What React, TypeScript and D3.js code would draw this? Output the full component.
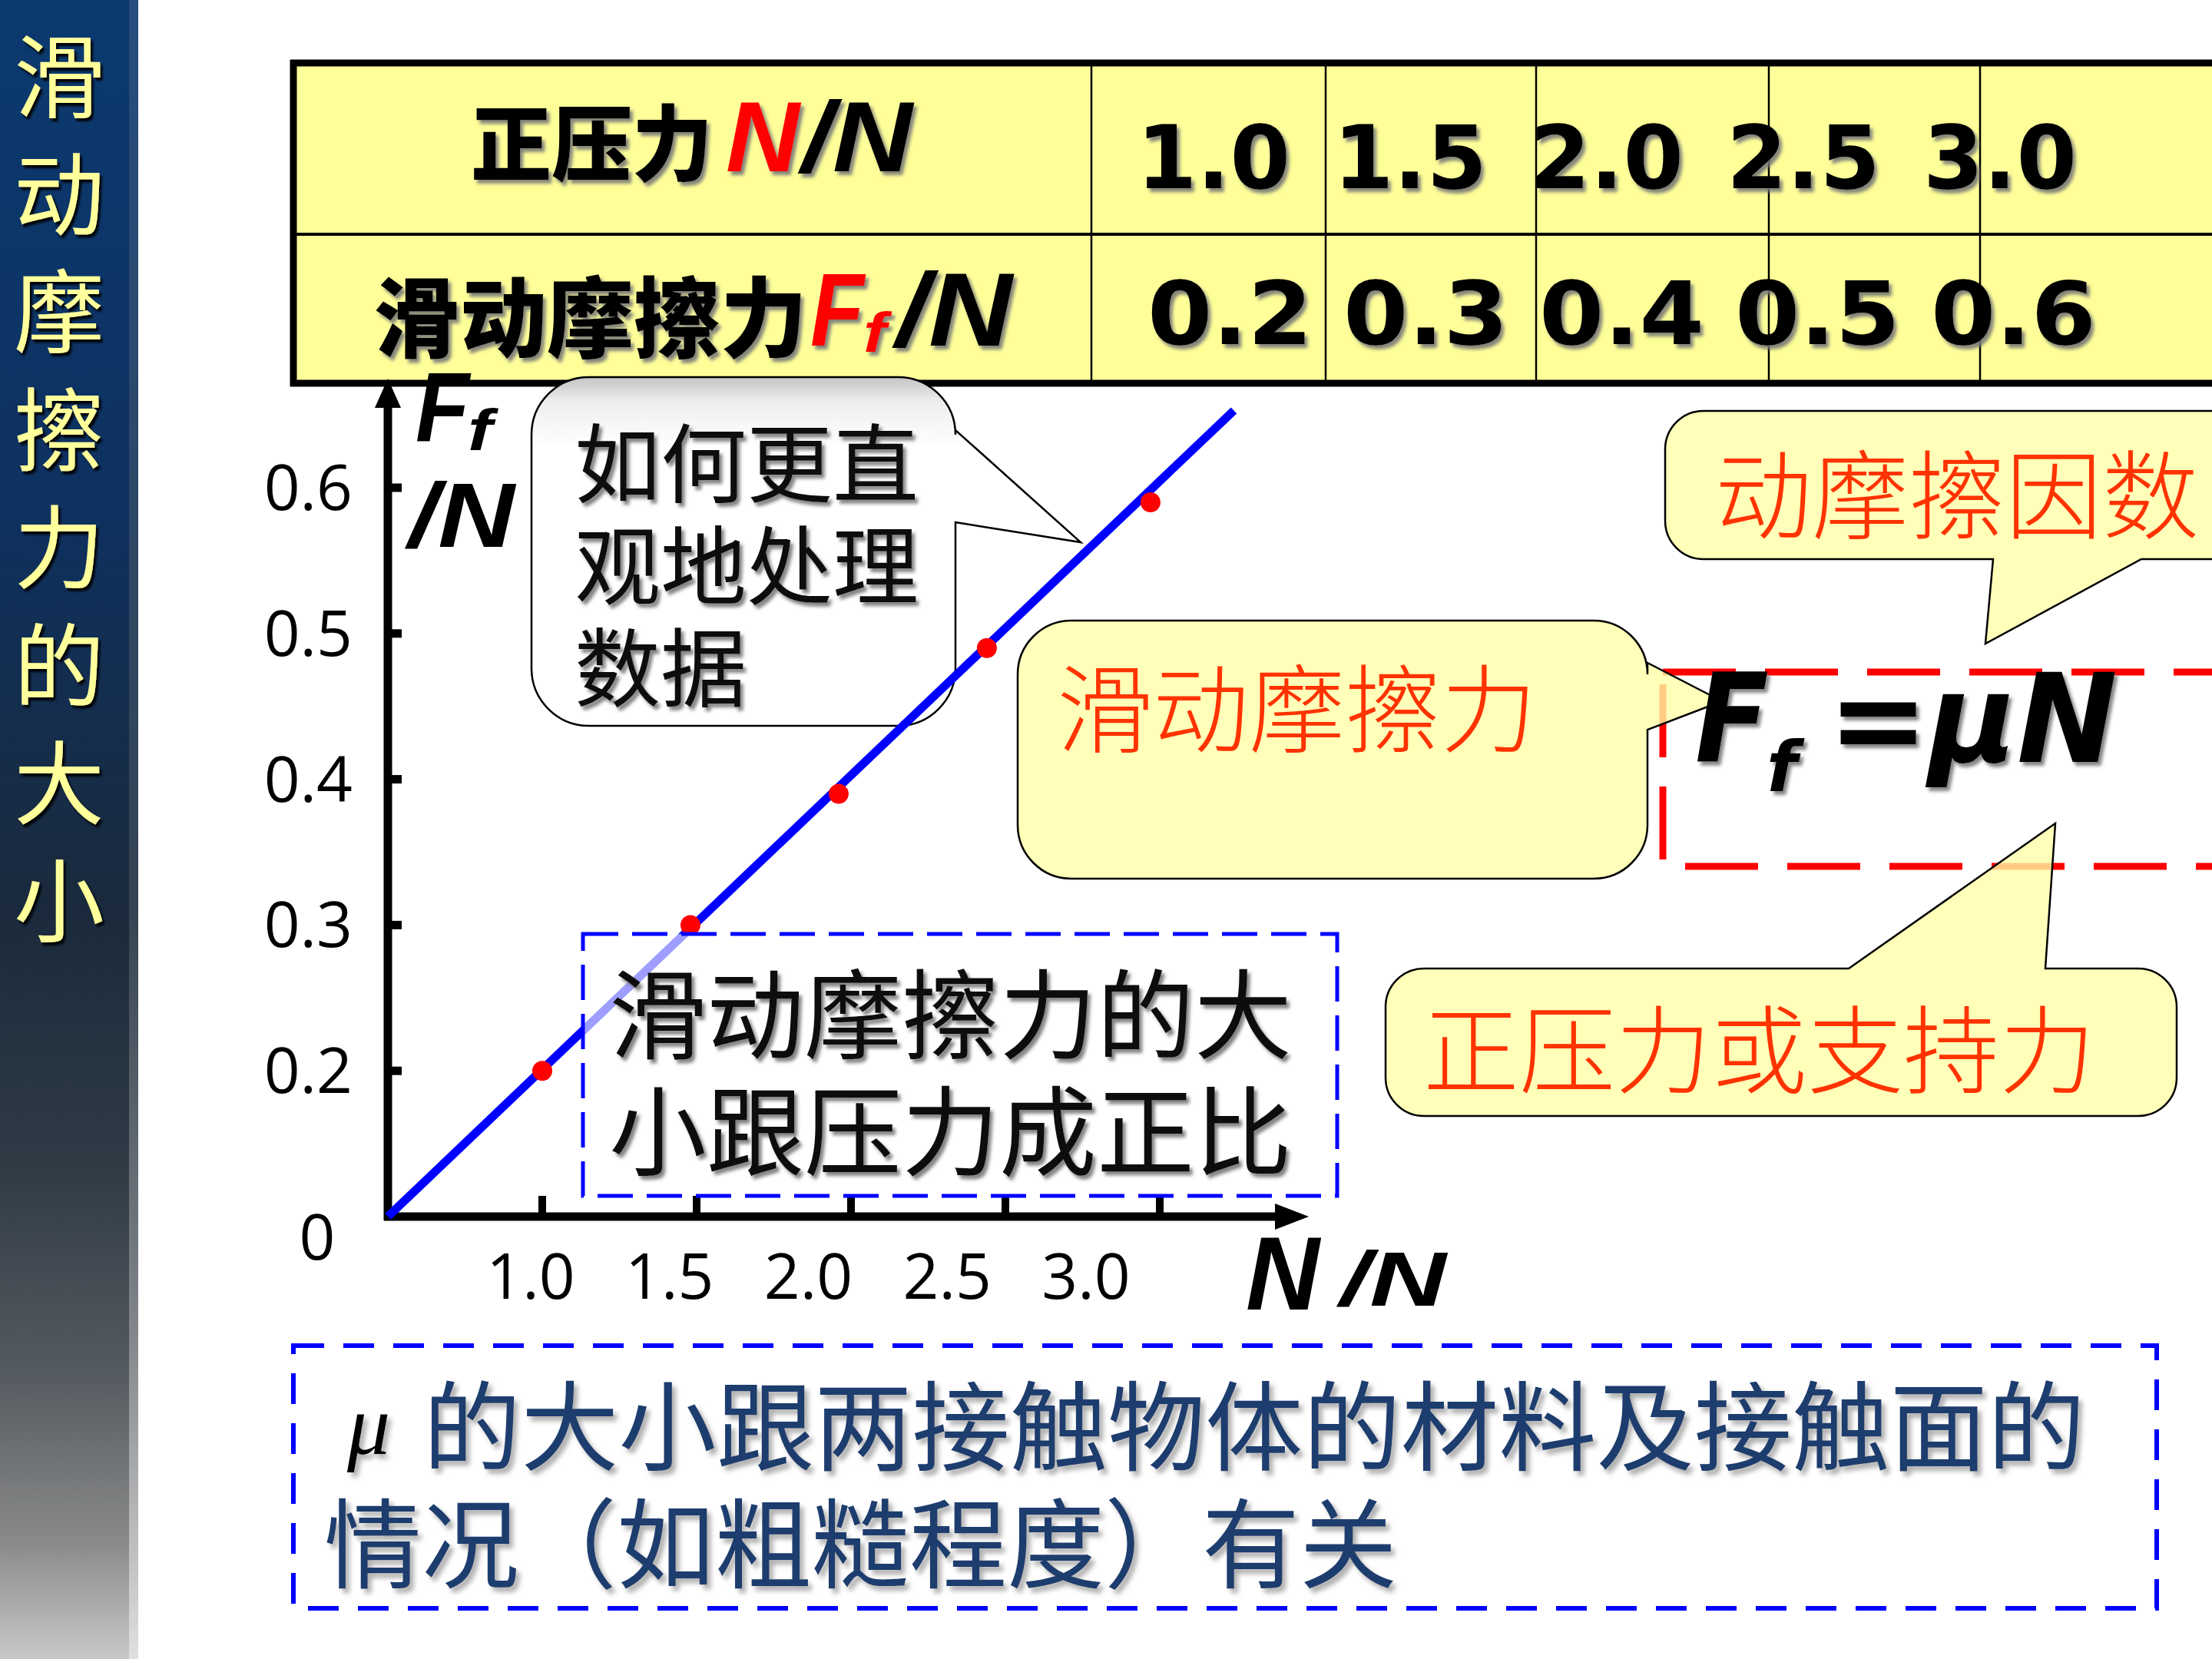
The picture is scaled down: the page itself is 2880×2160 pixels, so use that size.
import React from 'react';
import * as d3 from 'd3';

const W = 2880;
const H = 2160;

// ---- data ----
const sidebarTitle = ['滑', '动', '摩', '擦', '力', '的', '大', '小'];
const tableNormal = [1.0, 1.5, 2.0, 2.5, 3.0];
const tableFriction = [0.2, 0.3, 0.4, 0.5, 0.6];
const pointN = [1.0, 1.48, 1.96, 2.44, 2.97];
const pointF = [0.2, 0.3, 0.39, 0.49, 0.59];
const fitN = [0.5, 3.24];
const fitF = [0.1, 0.653];
const xTicks = [1.0, 1.5, 2.0, 2.5, 3.0];
const yTicks = [0.2, 0.3, 0.4, 0.5, 0.6];
const questionLines = ['如何更直', '观地处理', '数据'];
const conclusionLines = ['滑动摩擦力的大', '小跟压力成正比'];
const noteLine1 = '的大小跟两接触物体的材料及接触面的';
const noteLine2 = '情况（如粗糙程度）有关';
const calloutFriction = '滑动摩擦力';
const calloutMu = '动摩擦因数';
const calloutNormal = '正压力或支持力';

const CJK = '"Noto Sans CJK SC", "Noto Sans CJK JP", sans-serif';
const LATIN = '"Liberation Sans", Arial, sans-serif';
const ROUND = '"DejaVu Sans", sans-serif';
const TICK = '"Open Sans", "Noto Sans", sans-serif';

type Wedge = { side: 'top' | 'right' | 'bottom'; a: number; b: number; tx: number; ty: number };

function calloutPath(x: number, y: number, w: number, h: number, r: number, wd: Wedge) {
  const p = d3.path();
  p.moveTo(x + r, y);
  if (wd.side === 'top') {
    p.lineTo(wd.a, y);
    p.lineTo(wd.tx, wd.ty);
    p.lineTo(wd.b, y);
  }
  p.lineTo(x + w - r, y);
  p.arcTo(x + w, y, x + w, y + r, r);
  if (wd.side === 'right') {
    p.lineTo(x + w, wd.a);
    p.lineTo(wd.tx, wd.ty);
    p.lineTo(x + w, wd.b);
  }
  p.lineTo(x + w, y + h - r);
  p.arcTo(x + w, y + h, x + w - r, y + h, r);
  if (wd.side === 'bottom') {
    p.lineTo(wd.b, y + h);
    p.lineTo(wd.tx, wd.ty);
    p.lineTo(wd.a, y + h);
  }
  p.lineTo(x + r, y + h);
  p.arcTo(x, y + h, x, y + h - r, r);
  p.lineTo(x, y + r);
  p.arcTo(x, y, x + r, y, r);
  p.closePath();
  return p.toString();
}

export default function App() {
  const x = d3.scaleLinear().domain([0.5, 3.0]).range([505, 1510]);
  const y = d3.scaleLinear().domain([0.1, 0.6]).range([1584, 635]);
  const xLab = d3.scaleLinear().domain([1.0, 3.0]).range([691, 1414]);
  const row1 = d3.scalePoint<number>().domain(d3.range(tableNormal.length)).range([1480, 2504]);
  const row2 = d3.scalePoint<number>().domain(d3.range(tableFriction.length)).range([1494, 2514]);

  const fitLine = d3
    .line<number>()
    .x((d) => x(fitN[d]))
    .y((d) => y(fitF[d]))([0, 1]);

  const yellow = '#ffffa8';
  const red = '#ff3300';

  return (
    <svg
      width={W}
      height={H}
      viewBox={`0 0 ${W} ${H}`}
      style={{ position: 'absolute', left: 0, top: 0, background: '#fff' }}
    >
      <defs>
        <linearGradient id="side" x1="0" y1="0" x2="0" y2="1">
          <stop offset="0" stopColor="#0b3a70" />
          <stop offset="0.3" stopColor="#0e3160" />
          <stop offset="0.55" stopColor="#1a2a3c" />
          <stop offset="0.7" stopColor="#2f3a45" />
          <stop offset="0.83" stopColor="#555b61" />
          <stop offset="0.93" stopColor="#8a8a8a" />
          <stop offset="1" stopColor="#c8c8c8" />
        </linearGradient>
        <linearGradient id="sideStrip" x1="0" y1="0" x2="0" y2="1">
          <stop offset="0" stopColor="#2a5080" />
          <stop offset="0.55" stopColor="#3a4856" />
          <stop offset="0.8" stopColor="#8a8e92" />
          <stop offset="1" stopColor="#e4e4e4" />
        </linearGradient>
        <linearGradient id="qfill" x1="0" y1="0" x2="0" y2="1">
          <stop offset="0" stopColor="#c4c4c4" />
          <stop offset="0.07" stopColor="#eeeeee" />
          <stop offset="0.2" stopColor="#ffffff" />
          <stop offset="1" stopColor="#ffffff" />
        </linearGradient>
        <filter id="sh" x="-10%" y="-20%" width="130%" height="150%">
          <feDropShadow dx="4" dy="5" stdDeviation="2" floodColor="#777" floodOpacity="0.9" />
        </filter>
        <filter id="shLight" x="-10%" y="-20%" width="130%" height="150%">
          <feDropShadow dx="5" dy="6" stdDeviation="3" floodColor="#999" floodOpacity="0.8" />
        </filter>
        <filter id="shDark" x="-20%" y="-20%" width="150%" height="150%">
          <feDropShadow dx="3" dy="4" stdDeviation="1.5" floodColor="#000" floodOpacity="0.95" />
        </filter>
      </defs>

      <rect x={0} y={0} width={W} height={H} fill="#ffffff" />

      {/* sidebar */}
      <rect x={0} y={0} width={180} height={H} fill="url(#side)" />
      <rect x={168} y={0} width={12} height={H} fill="url(#sideStrip)" opacity={0.85} />
      <g filter="url(#shDark)">
        {sidebarTitle.map((c, i) => (
          <text
            key={i}
            x={77}
            y={92 + i * 153.4}
            fontFamily={CJK}
            fontSize={118}
            fill="#ffff9c"
            textAnchor="middle"
            dominantBaseline="central"
          >
            {c}
          </text>
        ))}
      </g>

      {/* data table */}
      <rect x={382} y={82} width={2600} height={417} fill="#ffff99" />
      <line x1={382} y1={305} x2={2900} y2={305} stroke="#000" strokeWidth={4} />
      {[1421, 1726, 2000, 2303, 2578].map((cx, i) => (
        <line key={i} x1={cx} y1={82} x2={cx} y2={499} stroke="#000" strokeWidth={2.5} />
      ))}
      <line x1={378} y1={82} x2={2900} y2={82} stroke="#000" strokeWidth={9} />
      <line x1={378} y1={499} x2={2900} y2={499} stroke="#000" strokeWidth={9} />
      <line x1={382} y1={78} x2={382} y2={503} stroke="#000" strokeWidth={9} />

      <g filter="url(#sh)">
        <text x={613} y={180} fontFamily={CJK} fontWeight={900} fontSize={108} textLength={315} lengthAdjust="spacingAndGlyphs" dominantBaseline="central" fill="#000">
          正压力
        </text>
        <text x={945} y={223} fontFamily={LATIN} fontStyle="italic" fontWeight={700} fontSize={130} textLength={96} lengthAdjust="spacingAndGlyphs" fill="#ff0000">
          N
        </text>
        <text x={1044} y={223} fontFamily={LATIN} fontStyle="italic" fontWeight={700} fontSize={130} textLength={144} lengthAdjust="spacingAndGlyphs" fill="#000">
          /N
        </text>

        <text x={486} y={406} fontFamily={CJK} fontWeight={900} fontSize={114} textLength={565} lengthAdjust="spacingAndGlyphs" dominantBaseline="central" fill="#000">
          滑动摩擦力
        </text>
        <text x={1055} y={450} fontFamily={LATIN} fontStyle="italic" fontWeight={700} fontSize={135} textLength={70} lengthAdjust="spacingAndGlyphs" fill="#ff0000">
          F
        </text>
        <text x={1124} y={458} fontFamily={LATIN} fontStyle="italic" fontWeight={700} fontSize={72} textLength={30} lengthAdjust="spacingAndGlyphs" fill="#ff0000">
          f
        </text>
        <text x={1167} y={450} fontFamily={LATIN} fontStyle="italic" fontWeight={700} fontSize={135} textLength={151} lengthAdjust="spacingAndGlyphs" fill="#000">
          /N
        </text>

        {tableNormal.map((v, i) => (
          <text key={i} x={row1(i)} y={245} fontFamily={ROUND} fontWeight={700} fontSize={114} textLength={200} lengthAdjust="spacingAndGlyphs" fill="#000">
            {v.toFixed(1)}
          </text>
        ))}
        {tableFriction.map((v, i) => (
          <text key={i} x={row2(i)} y={448} fontFamily={ROUND} fontWeight={700} fontSize={114} textLength={215} lengthAdjust="spacingAndGlyphs" fill="#000">
            {v.toFixed(1)}
          </text>
        ))}
      </g>

      {/* question callout */}
      <path
        d={calloutPath(692, 491, 552, 454, 75, { side: 'right', a: 560, b: 680, tx: 1407, ty: 706 })}
        fill="url(#qfill)"
        stroke="#000"
        strokeWidth={2.5}
      />
      <g filter="url(#sh)">
        {questionLines.map((t, i) => (
          <text key={i} x={748} y={597 + i * 133} fontFamily={CJK} fontSize={112} fill="#111" dominantBaseline="central">
            {t}
          </text>
        ))}
      </g>

      {/* axes */}
      <line x1={505} y1={1589} x2={505} y2={525} stroke="#000" strokeWidth={11} />
      <polygon points="505,493 488,531 522,531" fill="#000" />
      <line x1={500} y1={1584} x2={1665} y2={1584} stroke="#000" strokeWidth={11} />
      <polygon points="1704,1584 1660,1567 1660,1601" fill="#000" />
      {yTicks.map((v) => (
        <g key={v}>
          <line x1={505} y1={y(v)} x2={523} y2={y(v)} stroke="#000" strokeWidth={11} />
          <text x={459} y={y(v) + 29} fontFamily={TICK} fontSize={82} textAnchor="end" fill="#000">
            {v.toFixed(1)}
          </text>
        </g>
      ))}
      <text x={413} y={1640} fontFamily={TICK} fontSize={82} textAnchor="middle" fill="#000">
        0
      </text>
      {xTicks.map((v) => (
        <g key={v}>
          <line x1={x(v)} y1={1584} x2={x(v)} y2={1557} stroke="#000" strokeWidth={10} />
          <text x={xLab(v)} y={1691} fontFamily={TICK} fontSize={82} textAnchor="middle" fill="#000">
            {v.toFixed(1)}
          </text>
        </g>
      ))}

      {/* axis titles */}
      <text x={541} y={574} fontFamily={LATIN} fontStyle="italic" fontWeight={700} fontSize={128} textLength={70} lengthAdjust="spacingAndGlyphs" fill="#000">
        F
      </text>
      <text x={609} y={586} fontFamily={LATIN} fontStyle="italic" fontWeight={700} fontSize={76} textLength={32} lengthAdjust="spacingAndGlyphs" fill="#000">
        f
      </text>
      <text x={532} y={712} fontFamily={LATIN} fontStyle="italic" fontWeight={700} fontSize={118} textLength={138} lengthAdjust="spacingAndGlyphs" fill="#000">
        /N
      </text>
      <text x={1622} y={1705} fontFamily={LATIN} fontStyle="italic" fontWeight={700} fontSize={135} textLength={96} lengthAdjust="spacingAndGlyphs" fill="#000">
        N
      </text>
      <text x={1745} y={1700} fontFamily={LATIN} fontStyle="italic" fontWeight={700} fontSize={100} textLength={138} lengthAdjust="spacingAndGlyphs" fill="#000">
        /N
      </text>

      {/* fit line and data points */}
      <path d={fitLine ?? ''} stroke="#0000ff" strokeWidth={11} fill="none" />
      {pointN.map((n, i) => (
        <circle key={i} cx={x(n)} cy={y(pointF[i])} r={13} fill="#ff0000" />
      ))}
      <path d={fitLine ?? ''} stroke="#0000ff" strokeWidth={11} fill="none" clipPath="none" opacity={0} />

      {/* conclusion box */}
      <rect x={759} y={1216} width={982} height={341} fill="#ffffff" fillOpacity={0.62} stroke="#0000ff" strokeWidth={5} strokeDasharray="46 18" />
      <g filter="url(#sh)">
        {conclusionLines.map((t, i) => (
          <text key={i} x={793} y={1314 + i * 152} fontFamily={CJK} fontSize={127} fill="#111" dominantBaseline="central">
            {t}
          </text>
        ))}
      </g>

      {/* formula box */}
      <rect x={2165} y={875} width={800} height={253} fill="none" stroke="#ff0000" strokeWidth={9} strokeDasharray="95 38" />

      {/* yellow callouts */}
      <path
        d={calloutPath(1325, 808, 820, 336, 70, { side: 'right', a: 863, b: 950, tx: 2242, ty: 913 })}
        fill={yellow}
        fillOpacity={0.8}
        stroke="#000"
        strokeWidth={2.5}
      />
      <text x={1376} y={915} fontFamily={CJK} fontWeight={300} fontSize={125} fill={red} dominantBaseline="central">
        {calloutFriction}
      </text>

      <path
        d={calloutPath(2168, 535, 900, 193, 50, { side: 'bottom', a: 2595, b: 2788, tx: 2585, ty: 838 })}
        fill={yellow}
        fillOpacity={0.8}
        stroke="#000"
        strokeWidth={2.5}
      />
      <text x={2233} y={637} fontFamily={CJK} fontWeight={300} fontSize={126} fill={red} dominantBaseline="central">
        {calloutMu}
      </text>

      <path
        d={calloutPath(1804, 1261, 1030, 192, 50, { side: 'top', a: 2407, b: 2663, tx: 2676, ty: 1072 })}
        fill={yellow}
        fillOpacity={0.8}
        stroke="#000"
        strokeWidth={2.5}
      />
      <text x={1853} y={1359} fontFamily={CJK} fontWeight={300} fontSize={125} fill={red} dominantBaseline="central">
        {calloutNormal}
      </text>

      {/* formula */}
      <g filter="url(#sh)">
        <text x={2207} y={992} fontFamily={ROUND} fontStyle="italic" fontWeight={700} fontSize={160} textLength={96} lengthAdjust="spacingAndGlyphs" fill="#000">
          F
        </text>
        <text x={2300} y={1030} fontFamily={ROUND} fontStyle="italic" fontWeight={700} fontSize={90} textLength={40} lengthAdjust="spacingAndGlyphs" fill="#000">
          f
        </text>
        <text x={2380} y={992} fontFamily={ROUND} fontStyle="italic" fontWeight={700} fontSize={160} textLength={377} lengthAdjust="spacingAndGlyphs" fill="#000">
          =μN
        </text>
      </g>

      {/* bottom note */}
      <rect x={382} y={1752} width={2426} height={342} fill="none" stroke="#0000ff" strokeWidth={6} strokeDasharray="40 25" />
      <text x={452} y={1893} fontFamily='"Liberation Serif", serif' fontStyle="italic" fontSize={112} fill="#000" filter="url(#shLight)">
        μ
      </text>
      <g filter="url(#shLight)">
        <text x={551} y={1850} fontFamily={CJK} fontSize={127} fill="#1e3c6e" dominantBaseline="central" textLength={2164} lengthAdjust="spacingAndGlyphs">
          {noteLine1}
        </text>
        <text x={422} y={2003} fontFamily={CJK} fontSize={127} fill="#1e3c6e" dominantBaseline="central">
          {noteLine2}
        </text>
      </g>
    </svg>
  );
}
